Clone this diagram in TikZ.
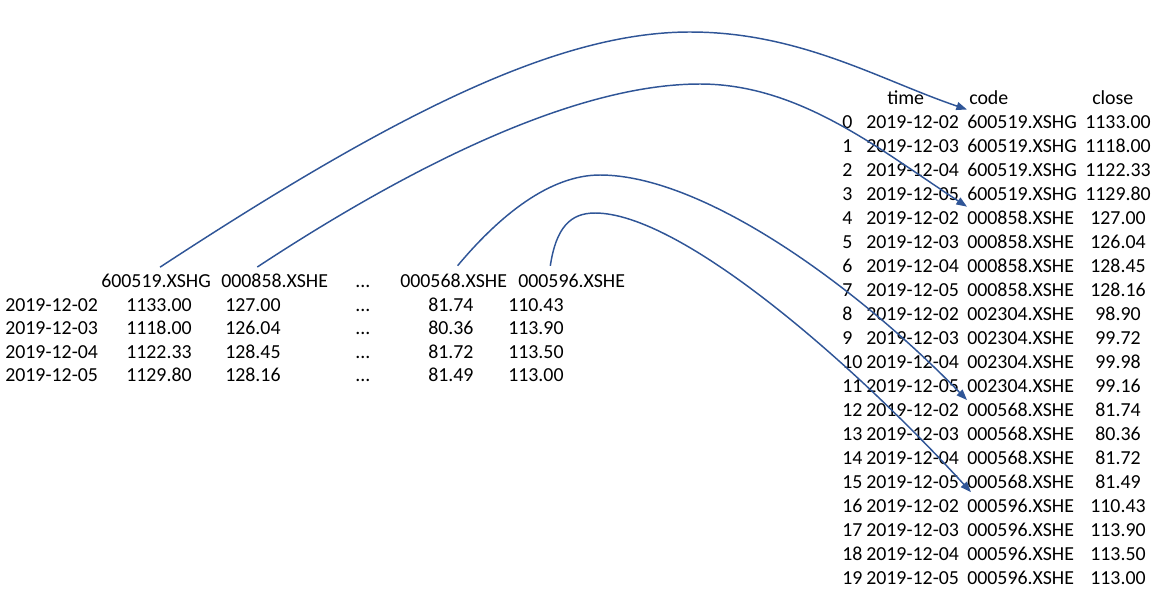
\documentclass[tikz,border=0pt]{standalone}
\usepackage{fontspec}
\setmainfont{Carlito}
\usepackage{tikz}
\usetikzlibrary{arrows.meta}

\definecolor{linkblue}{RGB}{47,85,151}

\tikzset{
  cell/.style={anchor=base west, inner sep=0pt},
  link/.style={draw=linkblue, line width=1.1pt, -{Triangle[length=8pt,width=6pt]}}
}

\begin{document}
\begin{tikzpicture}[x=0.75pt,y=-0.75pt,font=\fontsize{14.9pt}{18pt}\selectfont]
        \useasboundingbox (0,0) rectangle (1161,601);
        % wide table
        \node[cell] (hA) at (101,287.5) {600519.XSHG};
        \node[cell] (hB) at (221,287.5) {000858.XSHE};
        \node[cell] (hdots) at (355,287.5) {...};
        \node[cell] (hC) at (400,287.5) {000568.XSHE};
        \node[cell] (hD) at (518,287.5) {000596.XSHE};
        \foreach \r/\d/\a/\b/\c/\e in {0/02/1133.00/127.00/81.74/110.43,
                                       1/03/1118.00/126.04/80.36/113.90,
                                       2/04/1122.33/128.45/81.72/113.50,
                                       3/05/1129.80/128.16/81.49/113.00}
        {
          \node[cell] (wd\r) at (5,311+23.5*\r) {2019-12-\d};
          \node[cell] (wa\r) at (126,311+23.5*\r) {\a};
          \node[cell] (wb\r) at (225,311+23.5*\r) {\b};
          \node[cell] (wdots\r) at (355,311+23.5*\r) {...};
          \node[cell] (wc\r) at (428,311+23.5*\r) {\c};
          \node[cell] (we\r) at (508,311+23.5*\r) {\e};
        }
        % long table
        \node[cell] (ltime) at (887,104.5) {time};
        \node[cell] (lcode) at (969,104.5) {code};
        \node[cell] (lclose) at (1092,104.5) {close};
        \foreach \i/\d/\c/\v in {0/02/600519.XSHG/1133.00, 1/03/600519.XSHG/1118.00,
                                 2/04/600519.XSHG/1122.33, 3/05/600519.XSHG/1129.80,
                                 4/02/000858.XSHE/127.00, 5/03/000858.XSHE/126.04,
                                 6/04/000858.XSHE/128.45, 7/05/000858.XSHE/128.16,
                                 8/02/002304.XSHE/98.90, 9/03/002304.XSHE/99.72,
                                 10/04/002304.XSHE/99.98, 11/05/002304.XSHE/99.16,
                                 12/02/000568.XSHE/81.74, 13/03/000568.XSHE/80.36,
                                 14/04/000568.XSHE/81.72, 15/05/000568.XSHE/81.49,
                                 16/02/000596.XSHE/110.43, 17/03/000596.XSHE/113.90,
                                 18/04/000596.XSHE/113.50, 19/05/000596.XSHE/113.00}
        {
          \node[cell] (idx\i) at (842,128.5+24*\i) {\i};
          \node[cell] (date\i) at (866,128.5+24*\i) {2019-12-\d};
          \node[cell] (code\i) at (967,128.5+24*\i) {\c};
          \node[anchor=base, inner sep=0pt] (close\i) at (1118,128.5+24*\i) {\v};
        }
        % links
        \draw[link] ([xshift=3pt,yshift=5pt]hA.north)
          .. controls (400,110) and (560,32) .. (690,32)
          .. controls (800,32) and (880,80) .. ([yshift=4pt]code0.north west);
        \draw[link] ([xshift=-13pt,yshift=5pt]hB.north)
          .. controls (420,160) and (580,84) .. (700,84)
          .. controls (800,84) and (880,150) .. ([yshift=3pt]code4.north west);
        \draw[link] ([xshift=3pt,yshift=6pt]hC.north)
          .. controls (500,215) and (550,175) .. (600,175)
          .. controls (700,175) and (850,280) .. ([yshift=2pt]code12.north west);
        \draw[link] ([xshift=-16pt,yshift=6pt]hD.north)
          .. controls (556,228) and (570,213) .. (595,213)
          .. controls (680,213) and (850,360) .. ([xshift=3pt,yshift=5pt]code16.north west);
\end{tikzpicture}
\end{document}
